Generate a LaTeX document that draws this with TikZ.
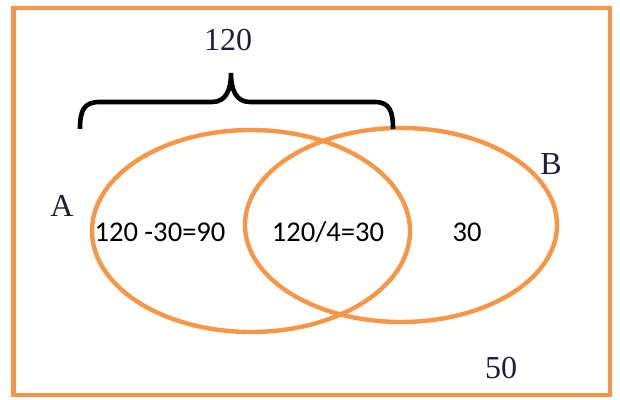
\documentclass[tikz,border=0pt]{standalone}
\usepackage{fontspec}
\setmainfont{Liberation Serif}
\newfontfamily\calfont{Carlito}
\usetikzlibrary{shapes.geometric}

\definecolor{setorange}{RGB}{247,150,70}
\definecolor{labelnavy}{RGB}{30,30,60}

\begin{document}
\begin{tikzpicture}[x=0.5pt, y=0.5pt,
        frame/.style={draw=setorange, line width=2.4pt},
        setring/.style={draw=setorange, line width=2.2pt, ellipse, inner sep=0pt, outer sep=0pt},
        setname/.style={font=\fontsize{16}{18}\selectfont, color=labelnavy},
        count/.style={font=\calfont\fontsize{14.3}{16}\selectfont, color=black},
        bracestyle/.style={line width=2.3pt, black}
    ]
        \useasboundingbox (0,0) rectangle (620,400);

        % --- universe frame ---
        \draw[frame] (13.5,5) rectangle (610,392);

        % --- the two sets ---
        \node[setring, minimum width=159pt, minimum height=101pt] (setA) at (251,169) {};
        \node[setring, minimum width=156pt, minimum height=97pt] (setB) at (401,175) {};

        % --- set names ---
        \node[setname] (nameA) at (62,194) {A};
        \node[setname] (nameB) at (551,236) {B};

        % --- region counts ---
        \node[count] (onlyA) at (160,168) {120 -30=90};
        \node[count] (both) at (328,168) {120/4=30};
        \node[count] (onlyB) at (467,168) {30};
        \node[setname] (outside) at (501,32) {50};

        % --- brace over A ---
        \coordinate (braceL) at (80,271);
        \coordinate (braceTip) at (231,327);
        \coordinate (braceR) at (393,271);
        \draw[bracestyle] (braceL) .. controls (80,290) and (84,298) .. (100,298)
            -- (212,298) .. controls (226,298) and (231,310) .. (braceTip)
            .. controls (231,310) and (236,298) .. (250,298)
            -- (375,298) .. controls (390,298) and (393,288) .. (braceR);
        \node[setname] (total) at (228,360) {120};
    \end{tikzpicture}
\end{document}
